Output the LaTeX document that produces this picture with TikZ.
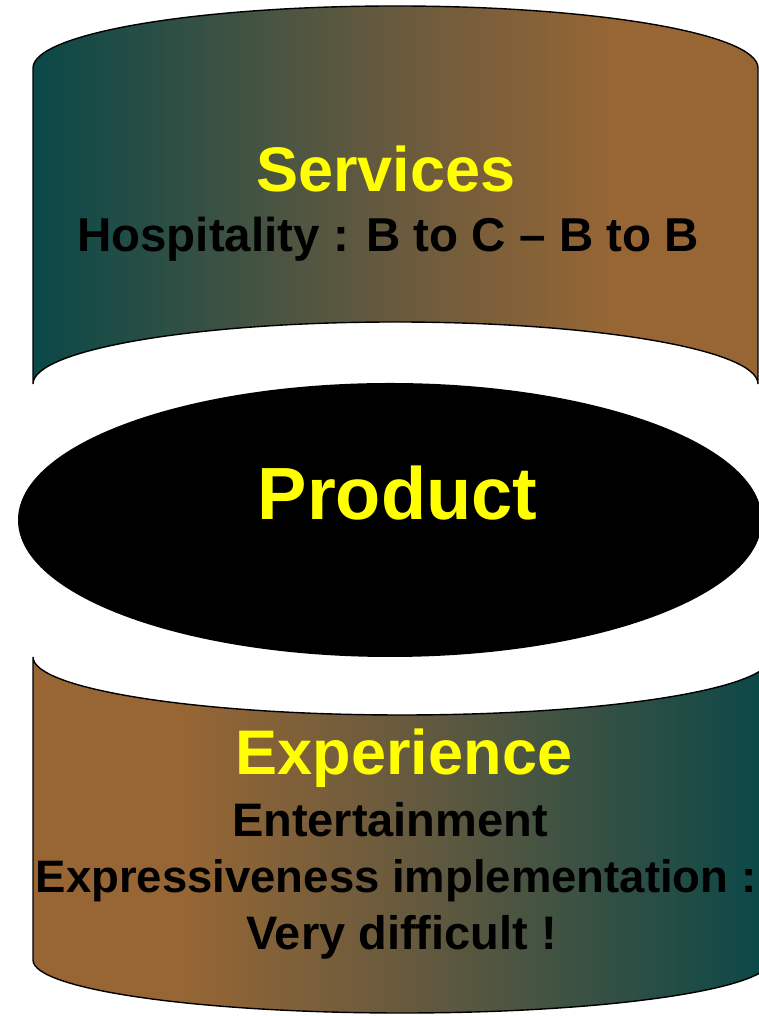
\documentclass[tikz,border=0pt]{standalone}
\usepackage{fontspec}
\setmainfont{Liberation Sans}
\definecolor{tealc}{RGB}{10,72,72}
\definecolor{brownc}{RGB}{151,102,52}
\definecolor{midc}{RGB}{104,90,62}
\definecolor{yel}{RGB}{255,255,0}
\pgfdeclarehorizontalshading{tealtobrown}{100bp}{color(0bp)=(tealc); color(25bp)=(tealc); color(50bp)=(midc); color(65bp)=(brownc); color(100bp)=(brownc)}
\pgfdeclarehorizontalshading{browntoteal}{100bp}{color(0bp)=(brownc); color(35bp)=(brownc); color(50bp)=(midc); color(75bp)=(tealc); color(100bp)=(tealc)}
\tikzset{
  band/.style={draw=black, line width=1.4pt},
  title/.style={anchor=base, inner sep=0pt, text=yel, font=\bfseries\fontsize{63}{70}\selectfont},
  sub/.style={anchor=base, inner sep=0pt, text=black, font=\bfseries\fontsize{47}{54}\selectfont}
}
\begin{document}
\begin{tikzpicture}[x=1pt,y=1pt]
\useasboundingbox (0,0) rectangle (759,1016);
% top band (Services)
\path[band, shading=tealtobrown] (33,948) arc[start angle=180, end angle=0, x radius=362.5pt, y radius=62pt]
  -- (758,632) arc[start angle=0, end angle=180, x radius=362.5pt, y radius=62pt] -- cycle;
% bottom band (Experience)
\path[band, shading=browntoteal] (33,359) arc[start angle=180, end angle=360, x radius=369pt, y radius=58pt]
  -- (771,56) arc[start angle=0, end angle=-180, x radius=369pt, y radius=53pt] -- cycle;
% product ellipse
\fill[black] (390,496) ellipse[x radius=372pt, y radius=137pt];
% texts
\node[title] (services) at (386,824) {Services};
\node[sub, font=\bfseries\fontsize{47.5}{54}\selectfont] (hosp) at (388,764) {Hospitality : B to C – B to B};
\node[title, font=\bfseries\fontsize{74}{80}\selectfont] (product) at (397.5,496) {Product};
\node[title] (experience) at (404,241) {Experience};
\node[sub] (ent) at (390,179) {Entertainment};
\node[sub, font=\bfseries\fontsize{45.5}{52}\selectfont] (expr) at (396,123) {Expressiveness implementation :};
\node[sub] (very) at (401.5,66) {Very difficult !};
\end{tikzpicture}
\end{document}
